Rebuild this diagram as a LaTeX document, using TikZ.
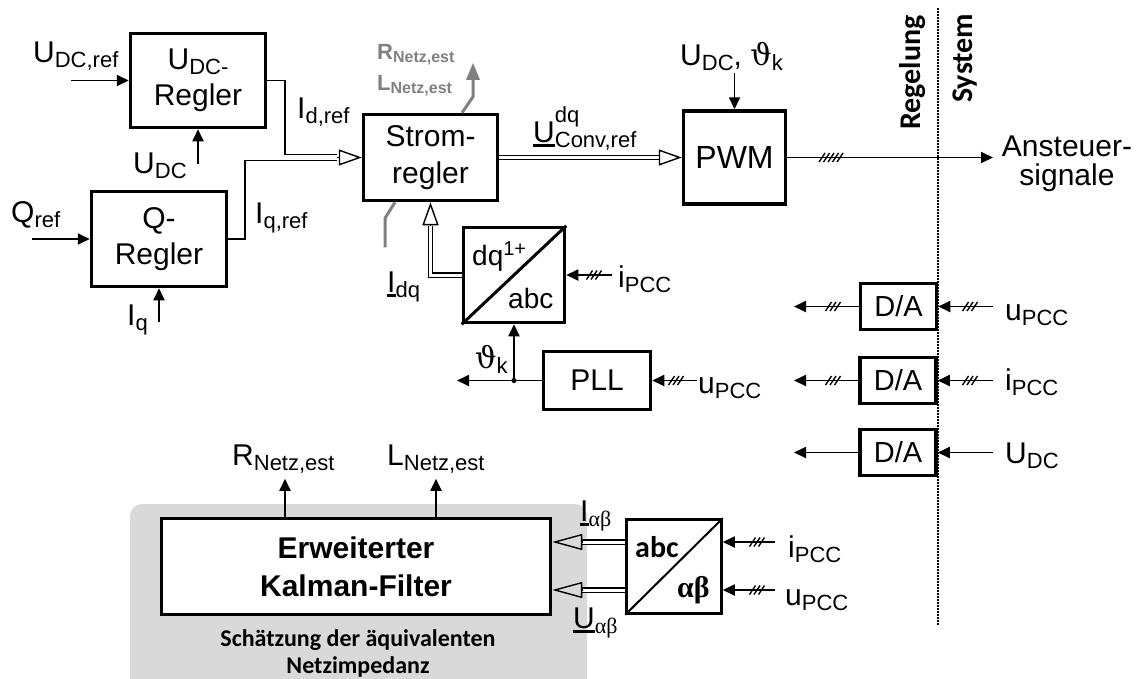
\documentclass[tikz,border=0pt]{standalone}
\usepackage{fontspec}
\setmainfont{Liberation Sans}
\newfontfamily\calib{Carlito}
\newfontfamily\grk{DejaVu Serif}
\newfontfamily\lserif{Liberation Serif}
\usetikzlibrary{arrows.meta,calc}
\definecolor{gr}{RGB}{128,128,128}
\definecolor{bgc}{RGB}{217,217,217}
\newcommand\sub[1]{\raisebox{-5pt}{\fontsize{22}{22}\selectfont #1}}
\newcommand\gsub[1]{\raisebox{-3pt}{\fontsize{16}{16}\selectfont #1}}
\newcommand\gksub[1]{\raisebox{-5pt}{\lserif\fontsize{22}{22}\selectfont #1}}
\newcommand\myul[1]{\setbox0\hbox{#1}\rlap{\rule[-5pt]{\wd0}{2.6pt}}\box0}
\newcommand\hatch[3]{\foreach \k in {1,...,#3}{\draw[hatchst] ({#1+(\k-(#3+1)/2)*4.5-3},{#2+4.5}) -- ++(6,-9);}}
\tikzset{
 box/.style={draw, line width=3.5pt, inner sep=0pt, align=center, font=\fontsize{30}{36}\selectfont},
 lbl/.style={inner sep=0pt, font=\fontsize{30}{36}\selectfont},
 glbl/.style={inner sep=0pt, text=gr, font=\bfseries\fontsize{22}{24}\selectfont},
 conn/.style={line width=1.8pt, -{Triangle[length=12pt,width=11pt]}},
 plain/.style={line width=1.8pt},
 dbl/.style={double, double distance=3pt, line width=1.4pt},
 otip/.style={line width=1.4pt, -{Triangle[open,length=23pt,width=16pt]}},
 otipl/.style={line width=1.4pt, -{Triangle[open,length=30pt,width=16pt]}},
 hatchst/.style={line width=1.4pt},
 grayc/.style={draw=gr, line width=3pt},
 rotlbl/.style={inner sep=0pt, rotate=90, anchor=base west, font=\calib\bfseries\fontsize{30}{30}\selectfont},
}
\begin{document}
\begin{tikzpicture}[x=1pt,y=-1pt]
\useasboundingbox (0,0) rectangle (1138,678);
% gray background
\fill[bgc, rounded corners=12pt] (130,504) rectangle (587,700);
% dotted separator
\draw[line width=1.3pt, dash pattern=on 1.5pt off 1.5pt] (938,8) -- (938,625);
\node[rotlbl] (treg) at (920,130) {Regelung};
\node[rotlbl] (tsys) at (972,103) {System};

% blocks
\node[box, minimum width=135pt, minimum height=94pt] (udc) at (198,80.5) {U\sub{DC-}\\Regler};
\node[box, minimum width=135pt, minimum height=95pt] (q) at (159,239) {Q-\\Regler};
\node[box, minimum width=134pt, minimum height=86pt, font=\fontsize{30}{37}\selectfont] (strom) at (430.5,157.5) {Strom-\\regler};
\node[box, minimum width=102pt, minimum height=93pt, font=\fontsize{32}{36}\selectfont] (pwm) at (734.5,157.5) {PWM};
\node[box, minimum width=101pt, minimum height=95pt] (dq) at (514,275) {};
\node[box, minimum width=107pt, minimum height=58pt] (pll) at (597,380.5) {PLL};
\node[box, minimum width=76pt, minimum height=46pt, font=\fontsize{29}{32}\selectfont] (da1) at (898.5,306.5) {D/A};
\node[box, minimum width=76pt, minimum height=46pt, font=\fontsize{29}{32}\selectfont] (da2) at (898,380.5) {D/A};
\node[box, minimum width=76pt, minimum height=46pt, font=\fontsize{29}{32}\selectfont] (da3) at (898,452.5) {D/A};
\node[box, fill=white, minimum width=389pt, minimum height=96pt, font=\bfseries\fontsize{30}{38}\selectfont] (kal) at (356,566.5) {Erweiterter\\Kalman-Filter};
\node[box, line width=2.5pt, minimum width=95pt, minimum height=94pt] (abc) at (674,566.5) {};
\draw[line width=3pt] (dq.south west) -- (dq.north east);
\draw[line width=2pt] (abc.south west) -- (abc.north east);
\node[lbl, anchor=base west, font=\fontsize{28}{30}\selectfont] (tdq) at (472,265) {dq\raisebox{10pt}{\fontsize{20}{20}\selectfont 1+}};
\node[lbl, anchor=base west, font=\fontsize{28}{30}\selectfont] (tabc) at (508,308) {abc};
\node[lbl, anchor=base west, font=\calib\bfseries\fontsize{30}{30}\selectfont] (tabc2) at (635,557) {abc};
\node[lbl, anchor=base west, font=\lserif\bfseries\fontsize{30}{30}\selectfont] (tab) at (677,597) {αβ};

% labels
\node[lbl, anchor=base west] (lUdcref) at (33,62) {U\sub{DC,ref}};
\node[lbl, anchor=base west] (lUdc) at (133,173) {U\sub{DC}};
\node[lbl, anchor=base west] (lQref) at (11,222) {Q\sub{ref}};
\node[lbl, anchor=base west] (lIq) at (127,325) {I\sub{q}};
\node[lbl, anchor=base west] (lIdref) at (297,118) {I\sub{d,ref}};
\node[lbl, anchor=base west] (lIqref) at (255,223) {I\sub{q,ref}};
\node[glbl, anchor=base west] (lRg) at (377,59) {R\gsub{Netz,est}};
\node[glbl, anchor=base west] (lLg) at (377,90) {L\gsub{Netz,est}};
\node[lbl, anchor=base west] (lUconv) at (533,142) {\myul{U}\sub{\rlap{\raisebox{25pt}{dq}}Conv,ref}};
\node[lbl, anchor=base west] (lpwm) at (680,65) {U\sub{DC}, {\grk ϑ}\sub{k}};
\node[lbl, align=center, font=\fontsize{30}{29}\selectfont] (lAns) at (1067,164) {Ansteuer-\\signale};
\node[lbl, anchor=base west] (lIdq) at (387,292) {\myul{I}\sub{dq}};
\node[lbl, anchor=base west] (lipcc1) at (618,287) {i\sub{PCC}};
\node[lbl, anchor=base west] (lthk) at (475,368) {{\grk ϑ}\sub{k}};
\node[lbl, anchor=base west] (lupcc1) at (698,393) {u\sub{PCC}};
\node[lbl, anchor=base west] (lupcc2) at (1005,320) {u\sub{PCC}};
\node[lbl, anchor=base west] (lipcc2) at (1005,390) {i\sub{PCC}};
\node[lbl, anchor=base west] (lUdc2) at (1005,463) {U\sub{DC}};
\node[lbl, anchor=base west] (lR) at (232,465) {R\sub{Netz,est}};
\node[lbl, anchor=base west] (lL) at (387,465) {L\sub{Netz,est}};
\node[lbl, anchor=base west] (lIab) at (580,521) {\myul{I}\gksub{αβ}};
\node[lbl, anchor=base west] (lUab) at (573,628) {\myul{U}\gksub{αβ}};
\node[lbl, anchor=base west] (lipcc3) at (788,557) {i\sub{PCC}};
\node[lbl, anchor=base west] (lupcc3) at (785,605) {u\sub{PCC}};
\node[inner sep=0pt, align=center, font=\calib\bfseries\fontsize{24}{27}\selectfont] (lsch) at (358,653) {Schätzung der äquivalenten\\Netzimpedanz};

% coordinates
\coordinate (udcin) at (71,80.5);
\coordinate (udcfb) at (198,164);
\coordinate (qin) at (32,239);
\coordinate (iqin) at (159,322);
\coordinate (sb) at (337,157.5);
\coordinate (uconvb) at (660,157.5);
\coordinate (pwmtop) at (734.5,73);
\coordinate (ans) at (993,157.5);
\coordinate (idqb) at (430.5,226);
\coordinate (ipin1) at (612,275);
\coordinate (jn) at (514,380.5);
\coordinate (pllout) at (457,380.5);
\coordinate (upin1) at (697,380.5);
\coordinate (o1) at (794,306.5);
\coordinate (o2) at (794,380.5);
\coordinate (o3) at (794,452.5);
\coordinate (i1) at (993,306.5);
\coordinate (i2) at (993,380.5);
\coordinate (i3) at (993,452.5);
\coordinate (ia) at (582,542);
\coordinate (ua) at (582,590);
\coordinate (ipin3) at (775,542);
\coordinate (upin3) at (775,590);

% connectors
\draw[conn] (udcin) -- (udc.west);
\draw[conn] (udcfb) -- (udc.south);
\draw[conn] (qin) -- (q.west);
\draw[conn] (iqin) -- (q.south);
\draw[plain] (udc.east) -- (285,80.5) -- (285,154.5) -- (337,154.5);
\draw[plain] (q.east) -- (245,239) -- (245,160.5) -- (337,160.5);
\draw[otip] (sb) -- (strom.west);
\draw[dbl] (strom.east) -- (uconvb);
\draw[otip] (uconvb) -- (pwm.west);
\draw[conn] (pwmtop) -- (pwm.north);
\draw[conn] (pwm.east) -- (ans);
\draw[dbl] (dq.west) -- (430.5,275) -- (idqb);
\draw[otip] (idqb) -- (strom.south);
\draw[grayc, -{Triangle[length=17pt,width=13pt]}] ($(strom.north)+(31.5,0)$) -- ++(11,-16) -- ++(0,-34);
\draw[grayc] ($(strom.south)+(-35.5,0)$) -- ++(-10,16) -- ++(0,29);
\draw[conn] (ipin1) -- (dq.east);
\draw[conn] (pll.west) -- (pllout);
\fill (jn) circle (2.6pt);
\draw[conn] (jn) -- (dq.south);
\draw[conn] (upin1) -- (pll.east);
\draw[conn] (da1.west) -- (o1);
\draw[conn] (da2.west) -- (o2);
\draw[conn] (da3.west) -- (o3);
\draw[conn] (i1) -- (da1.east);
\draw[conn] (i2) -- (da2.east);
\draw[conn] (i3) -- (da3.east);
\draw[conn] ($(kal.north)+(-71,0)$) -- ++(0,-38);
\draw[conn] ($(kal.north)+(80,0)$) -- ++(0,-38);
\draw[dbl] (abc.west |- ia) -- (ia);
\draw[otipl] (ia) -- (kal.east |- ia);
\draw[dbl] (abc.west |- ua) -- (ua);
\draw[otipl] (ua) -- (kal.east |- ua);
\draw[conn] (ipin3) -- (abc.east |- ipin3);
\draw[conn] (upin3) -- (abc.east |- upin3);

% hatches
\hatch{831}{157.5}{5}
\hatch{594}{275}{3}
\hatch{676}{380.5}{3}
\hatch{833}{306.5}{3}
\hatch{833}{380.5}{3}
\hatch{970}{306.5}{3}
\hatch{970}{380.5}{3}
\hatch{757}{542}{3}
\hatch{757}{590}{3}
\end{tikzpicture}
\end{document}
